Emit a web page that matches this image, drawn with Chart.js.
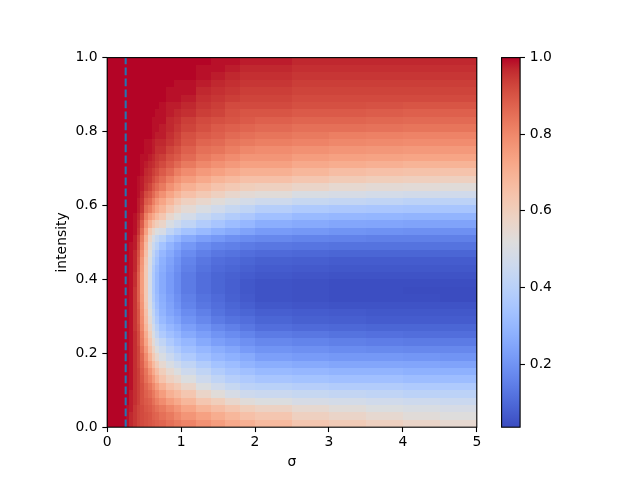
<!DOCTYPE html>
<html><head><meta charset="utf-8">
<script src="https://cdn.jsdelivr.net/npm/chart.js@4.4.0/dist/chart.umd.min.js"></script>
<style>
html,body{margin:0;padding:0;background:#fff;}
#wrap{position:relative;width:640px;height:480px;}
canvas{position:absolute;left:0;top:0;}
</style>
</head><body>
<div id="wrap"><canvas id="main" width="640" height="480"></canvas><canvas id="cbar" width="640" height="480"></canvas></div>
<script>
// ---- grid edges (σ columns, intensity rows) ----
const sigmaEdges = [0, 0.25, 0.3, 0.35, 0.4, 0.45, 0.5, 0.55, 0.6, 0.65, 0.7, 0.8, 0.9, 1.0, 1.2, 1.4, 1.6, 1.8, 2.0, 2.5, 3.0, 3.5, 4.0, 4.5, 5.0];
const intensityEdges = [0,0.02,0.04,0.06,0.08,0.1,0.12,0.14,0.16,0.18,0.2,0.22,0.24,0.26,0.28,0.3,0.32,0.34,0.36,0.38,0.4,0.42,0.44,0.46,0.48,0.5,0.52,0.54,0.56,0.58,0.6,0.62,0.64,0.66,0.68,0.7,0.72,0.74,0.76,0.78,0.8,0.82,0.84,0.86,0.88,0.9,0.92,0.94,0.96,0.98,1.0];
const xTicks = [0, 1, 2, 3, 4, 5];
const yTicks = [0, 0.2, 0.4, 0.6, 0.8, 1.0];
const colorbarTicks = [0.2, 0.4, 0.6, 0.8, 1.0];
const markerSigma = 0.25;
const colorMin = 0.035, colorMax = 1.0;

// ---- values per σ column, listed from intensity 0 (bottom) to 1 (top) ----
const sig0125 = [1,1,1,1,1,1,1,1,1,1, 1,1,1,1,1,1,1,1,1,1, 1,1,1,1,1,1,1,1,1,1, 1,1,1,1,1,1,1,1,1,1, 1,1,1,1,1,1,1,1,1,1];
const sig0275 = [0.99,0.99,0.99,1,1,1,1,1,1,1, 1,1,1,1,1,1,1,1,1,1, 1,1,1,1,1,1,1,1,1,1, 1,1,1,1,1,1,1,1,1,1, 1,1,1,1,1,1,1,1,1,1];
const sig0325 = [0.97,0.97,0.98,0.98,0.98,0.99,0.99,0.99,0.99,0.99, 0.99,0.99,0.99,0.99,0.99,0.99,0.99,0.99,0.99,0.99, 0.99,0.99,0.99,0.99,0.99,1,1,1,1,1, 1,1,1,1,1,1,1,1,1,1, 1,1,1,1,1,1,1,1,1,1];
const sig0375 = [0.95,0.95,0.95,0.96,0.96,0.96,0.96,0.96,0.96,0.96, 0.96,0.96,0.96,0.95,0.95,0.95,0.95,0.95,0.95,0.96, 0.96,0.97,0.97,0.97,0.98,0.98,0.99,0.99,0.99,1, 1,1,1,1,1,1,1,1,1,1, 1,1,1,1,1,1,1,1,1,1];
const sig0425 = [0.93,0.93,0.93,0.94,0.94,0.94,0.94,0.94,0.93,0.93, 0.93,0.92,0.92,0.91,0.90,0.90,0.89,0.88,0.88,0.88, 0.88,0.89,0.90,0.91,0.92,0.93,0.95,0.96,0.97,0.98, 0.98,0.99,0.99,0.99,1,1,1,1,1,1, 1,1,1,1,1,1,1,1,1,1];
const sig0475 = [0.92,0.92,0.92,0.91,0.91,0.91,0.90,0.89,0.88,0.87, 0.85,0.83,0.82,0.80,0.79,0.78,0.77,0.76,0.75,0.75, 0.75,0.76,0.77,0.79,0.81,0.83,0.86,0.89,0.92,0.95, 0.96,0.97,0.98,0.98,0.99,0.99,0.99,1,1,1, 1,1,1,1,1,1,1,1,1,1];
const sig0525 = [0.91,0.91,0.90,0.89,0.88,0.87,0.85,0.84,0.81,0.79, 0.76,0.73,0.71,0.68,0.66,0.65,0.63,0.62,0.62,0.62, 0.62,0.62,0.63,0.65,0.67,0.70,0.74,0.78,0.82,0.86, 0.89,0.92,0.95,0.96,0.97,0.98,0.99,0.99,0.99,1, 1,1,1,1,1,1,1,1,1,1];
const sig0575 = [0.90,0.90,0.89,0.88,0.86,0.84,0.81,0.78,0.74,0.70, 0.66,0.63,0.60,0.57,0.54,0.52,0.50,0.49,0.48,0.48, 0.48,0.49,0.50,0.52,0.54,0.57,0.62,0.70,0.76,0.83, 0.87,0.90,0.93,0.95,0.96,0.97,0.98,0.99,0.99,1, 1,1,1,1,1,1,1,1,1,1];
const sig0625 = [0.89,0.88,0.87,0.85,0.83,0.80,0.76,0.72,0.67,0.62, 0.58,0.54,0.50,0.47,0.44,0.42,0.40,0.38,0.37,0.37, 0.37,0.38,0.40,0.42,0.45,0.49,0.56,0.64,0.72,0.78, 0.82,0.86,0.89,0.92,0.94,0.96,0.97,0.98,0.98,0.99, 0.99,0.99,1,1,1,1,1,1,1,1];
const sig0675 = [0.88,0.87,0.85,0.82,0.79,0.75,0.70,0.66,0.61,0.56, 0.51,0.47,0.43,0.40,0.37,0.35,0.33,0.32,0.31,0.31, 0.31,0.32,0.34,0.36,0.40,0.44,0.51,0.60,0.67,0.73, 0.77,0.82,0.86,0.89,0.92,0.94,0.95,0.96,0.97,0.98, 0.99,0.99,0.99,1,1,1,1,1,1,1];
const sig075 = [0.87,0.85,0.83,0.79,0.75,0.70,0.64,0.60,0.55,0.50, 0.46,0.42,0.37,0.34,0.31,0.29,0.28,0.27,0.26,0.26, 0.26,0.27,0.28,0.30,0.34,0.40,0.49,0.57,0.63,0.69, 0.73,0.78,0.83,0.86,0.89,0.92,0.94,0.96,0.97,0.98, 0.98,0.99,0.99,0.99,1,1,1,1,1,1];
const sig085 = [0.85,0.83,0.80,0.75,0.70,0.65,0.59,0.55,0.50,0.45, 0.41,0.37,0.33,0.30,0.27,0.25,0.24,0.23,0.22,0.22, 0.22,0.23,0.24,0.26,0.29,0.34,0.42,0.50,0.56,0.63, 0.68,0.73,0.78,0.82,0.86,0.89,0.91,0.93,0.95,0.96, 0.97,0.97,0.98,0.98,0.99,0.99,1,1,1,1];
const sig095 = [0.83,0.80,0.77,0.72,0.67,0.62,0.56,0.51,0.46,0.41, 0.37,0.33,0.30,0.27,0.24,0.22,0.20,0.19,0.18,0.18, 0.18,0.19,0.20,0.22,0.25,0.30,0.38,0.46,0.52,0.58, 0.63,0.69,0.74,0.78,0.82,0.86,0.89,0.91,0.93,0.94, 0.95,0.96,0.97,0.98,0.99,0.99,0.99,1,1,1];
const sig11 = [0.81,0.77,0.73,0.68,0.63,0.57,0.51,0.46,0.42,0.37, 0.33,0.30,0.26,0.23,0.20,0.18,0.16,0.15,0.14,0.14, 0.14,0.15,0.16,0.18,0.21,0.26,0.34,0.42,0.48,0.54, 0.59,0.65,0.70,0.75,0.79,0.83,0.86,0.88,0.90,0.91, 0.93,0.94,0.96,0.97,0.98,0.99,0.99,1,1,1];
const sig13 = [0.78,0.74,0.69,0.63,0.57,0.51,0.46,0.42,0.38,0.33, 0.30,0.26,0.23,0.20,0.17,0.15,0.13,0.12,0.11,0.11, 0.11,0.12,0.13,0.15,0.18,0.23,0.31,0.38,0.44,0.50, 0.56,0.62,0.67,0.72,0.76,0.80,0.83,0.85,0.87,0.89, 0.91,0.92,0.94,0.95,0.96,0.97,0.98,0.99,0.99,1];
const sig15 = [0.75,0.71,0.66,0.60,0.53,0.47,0.42,0.38,0.34,0.30, 0.27,0.23,0.20,0.17,0.14,0.12,0.11,0.10,0.09,0.09, 0.09,0.10,0.11,0.13,0.16,0.21,0.28,0.35,0.41,0.47, 0.53,0.59,0.64,0.69,0.74,0.78,0.81,0.84,0.86,0.88, 0.89,0.91,0.93,0.94,0.95,0.96,0.97,0.98,0.99,0.99];
const sig17 = [0.72,0.68,0.63,0.56,0.49,0.44,0.39,0.35,0.32,0.28, 0.25,0.21,0.18,0.15,0.12,0.10,0.09,0.08,0.075,0.075, 0.08,0.09,0.10,0.12,0.15,0.19,0.26,0.32,0.38,0.44, 0.50,0.56,0.62,0.67,0.72,0.76,0.79,0.82,0.84,0.86, 0.88,0.90,0.91,0.92,0.94,0.95,0.96,0.97,0.98,0.99];
const sig19 = [0.70,0.65,0.60,0.53,0.46,0.41,0.37,0.33,0.29,0.26, 0.22,0.19,0.16,0.13,0.11,0.09,0.075,0.065,0.06,0.06, 0.07,0.08,0.09,0.11,0.14,0.18,0.24,0.30,0.36,0.42, 0.48,0.54,0.60,0.65,0.70,0.74,0.77,0.80,0.83,0.85, 0.87,0.89,0.90,0.92,0.93,0.94,0.95,0.96,0.97,0.98];
const sig225 = [0.67,0.63,0.58,0.51,0.45,0.40,0.35,0.31,0.27,0.23, 0.20,0.17,0.14,0.11,0.09,0.075,0.06,0.05,0.05,0.05, 0.06,0.07,0.08,0.10,0.13,0.17,0.22,0.27,0.33,0.39, 0.46,0.53,0.59,0.65,0.70,0.74,0.77,0.79,0.82,0.84, 0.86,0.88,0.90,0.92,0.93,0.94,0.95,0.96,0.97,0.98];
const sig275 = [0.63,0.59,0.55,0.49,0.44,0.39,0.34,0.30,0.26,0.22, 0.19,0.16,0.13,0.10,0.08,0.07,0.055,0.045,0.045,0.045, 0.055,0.065,0.075,0.095,0.125,0.16,0.21,0.26,0.31,0.37, 0.44,0.50,0.57,0.63,0.68,0.72,0.75,0.78,0.81,0.83, 0.85,0.87,0.89,0.91,0.92,0.93,0.94,0.95,0.96,0.97];
const sig325 = [0.61,0.57,0.53,0.48,0.43,0.38,0.33,0.29,0.25,0.21, 0.18,0.15,0.12,0.095,0.075,0.065,0.05,0.04,0.04,0.04, 0.05,0.06,0.07,0.09,0.12,0.155,0.20,0.25,0.30,0.36, 0.43,0.49,0.55,0.61,0.66,0.71,0.74,0.77,0.80,0.82, 0.85,0.87,0.89,0.91,0.92,0.93,0.94,0.95,0.96,0.97];
const sig375 = [0.59,0.55,0.51,0.47,0.42,0.38,0.33,0.29,0.25,0.21, 0.175,0.145,0.115,0.09,0.07,0.06,0.05,0.04,0.04,0.04, 0.05,0.06,0.07,0.09,0.12,0.15,0.195,0.245,0.295,0.355, 0.42,0.48,0.54,0.60,0.65,0.70,0.735,0.765,0.795,0.815, 0.845,0.865,0.885,0.905,0.92,0.93,0.94,0.95,0.96,0.97];
const sig425 = [0.57,0.53,0.50,0.46,0.41,0.37,0.32,0.28,0.245,0.205, 0.17,0.14,0.11,0.09,0.07,0.06,0.05,0.04,0.035,0.04, 0.05,0.06,0.07,0.09,0.12,0.15,0.19,0.24,0.29,0.35, 0.41,0.475,0.535,0.595,0.645,0.69,0.73,0.76,0.79,0.81, 0.84,0.86,0.88,0.90,0.92,0.93,0.94,0.95,0.96,0.97];
const sig475 = [0.55,0.52,0.49,0.45,0.41,0.37,0.32,0.28,0.24,0.20, 0.17,0.14,0.11,0.09,0.07,0.06,0.05,0.035,0.035,0.04, 0.05,0.06,0.07,0.09,0.12,0.15,0.19,0.24,0.29,0.35, 0.41,0.47,0.53,0.59,0.64,0.69,0.73,0.76,0.79,0.81, 0.84,0.86,0.88,0.90,0.92,0.93,0.94,0.95,0.96,0.97];

const heatColumns = [sig0125, sig0275, sig0325, sig0375, sig0425, sig0475, sig0525, sig0575, sig0625, sig0675,
  sig075, sig085, sig095, sig11, sig13, sig15, sig17, sig19, sig225, sig275, sig325, sig375, sig425, sig475];

// ---- coolwarm colormap (style) ----
const coolwarmStops = [[59,76,192],[68,90,204],[77,104,215],[87,117,225],[98,130,234],[108,142,241],[119,154,247],[130,165,251],[141,176,254],[152,185,255],[163,194,255],[174,201,253],[184,208,249],[194,213,244],[204,217,238],[213,219,230],[221,221,221],[229,216,209],[236,211,197],[241,204,184],[245,196,173],[247,187,160],[247,177,148],[247,166,135],[244,154,123],[241,141,111],[236,127,99],[229,112,88],[222,96,77],[213,80,66],[203,62,56],[192,40,47],[180,4,38]];
function coolwarm(t) {
  t = Math.max(0, Math.min(1, t));
  const n = coolwarmStops.length - 1;
  const f = t * n;
  const i = Math.min(Math.floor(f), n - 1);
  const r = f - i;
  const a = coolwarmStops[i], b = coolwarmStops[i + 1];
  return 'rgb(' + Math.round(a[0] + (b[0] - a[0]) * r) + ',' + Math.round(a[1] + (b[1] - a[1]) * r) + ',' + Math.round(a[2] + (b[2] - a[2]) * r) + ')';
}
const norm = v => (v - colorMin) / (colorMax - colorMin);

const FONT = { family: "'DejaVu Sans', sans-serif", size: 13.9 };
const TICKLEN = 4.86;

const heatPlugin = {
  id: 'heat',
  beforeDatasetsDraw(chart) {
    const { ctx, scales: { x, y } } = chart;
    ctx.save();
    heatColumns.forEach((col, j) => {
      const x0 = Math.round(x.getPixelForValue(sigmaEdges[j]));
      const x1 = Math.round(x.getPixelForValue(sigmaEdges[j + 1]));
      col.forEach((v, i) => {
        const yb = Math.round(y.getPixelForValue(intensityEdges[i]));
        const yt = Math.round(y.getPixelForValue(intensityEdges[i + 1]));
        ctx.fillStyle = coolwarm(norm(v));
        ctx.fillRect(x0, yt, x1 - x0, yb - yt);
      });
    });
    ctx.restore();
  },
  afterDatasetsDraw(chart) {
    const { ctx, chartArea: a } = chart;
    ctx.save();
    ctx.strokeStyle = '#000';
    ctx.lineWidth = 1.1;
    ctx.strokeRect(a.left, a.top, a.right - a.left, a.bottom - a.top);
    ctx.restore();
  }
};

new Chart(document.getElementById('main'), {
  type: 'scatter',
  data: {
    datasets: [{
      type: 'line',
      data: [{ x: markerSigma, y: 0 }, { x: markerSigma, y: 1 }],
      borderColor: '#1f77b4',
      borderWidth: 2.08,
      borderDash: [7.7, 3.3],
      pointRadius: 0,
      fill: false,
      tension: 0
    }]
  },
  options: {
    responsive: false, animation: false, events: [],
    plugins: { legend: { display: false }, tooltip: { enabled: false } },
    layout: { padding: { left: 0, right: 163.2, top: 57.6, bottom: 0 } },
    scales: {
      x: {
        type: 'linear', min: 0, max: 5, position: 'bottom',
        afterFit: s => { s.height = 52.8; },
        afterBuildTicks: s => { s.ticks = xTicks.map(v => ({ value: v })); },
        ticks: { callback: v => String(v), font: FONT, color: '#000', padding: 2, maxRotation: 0, autoSkip: false },
        grid: { display: true, drawOnChartArea: false, drawTicks: true, tickLength: TICKLEN, tickColor: '#000', tickWidth: 1.1 },
        border: { display: false },
        title: { display: true, text: 'σ', font: FONT, color: '#000', padding: { top: 0, bottom: 9.5 } }
      },
      y: {
        type: 'linear', min: 0, max: 1, position: 'left',
        afterFit: s => { s.width = 107.2; },
        afterBuildTicks: s => { s.ticks = yTicks.map(v => ({ value: v })); },
        ticks: { callback: v => Number(v).toFixed(1), font: FONT, color: '#000', padding: TICKLEN, autoSkip: false },
        grid: { display: true, drawOnChartArea: false, drawTicks: true, tickLength: TICKLEN, tickColor: '#000', tickWidth: 1.1 },
        border: { display: false },
        title: { display: true, text: 'intensity', font: FONT, color: '#000', padding: { top: 53.9, bottom: 0 } }
      }
    }
  },
  plugins: [heatPlugin]
});

const cbarPlugin = {
  id: 'cbar',
  beforeDatasetsDraw(chart) {
    const { ctx, chartArea: a, scales: { y } } = chart;
    const yBottom = y.getPixelForValue(colorMin), yTop = y.getPixelForValue(colorMax);
    const g = ctx.createLinearGradient(0, yBottom, 0, yTop);
    coolwarmStops.forEach((c, i) => g.addColorStop(i / (coolwarmStops.length - 1), 'rgb(' + c.join(',') + ')'));
    ctx.save();
    ctx.fillStyle = g;
    ctx.fillRect(a.left, yTop, a.right - a.left, yBottom - yTop);
    ctx.strokeStyle = '#000';
    ctx.lineWidth = 1.1;
    ctx.strokeRect(a.left, a.top, a.right - a.left, a.bottom - a.top);
    ctx.restore();
  }
};

new Chart(document.getElementById('cbar'), {
  type: 'scatter',
  data: { datasets: [] },
  options: {
    responsive: false, animation: false, events: [],
    plugins: { legend: { display: false }, tooltip: { enabled: false } },
    layout: { padding: { left: 501.6, right: 59.9, top: 57.6, bottom: 52.8 } },
    scales: {
      x: { display: false, min: 0, max: 1 },
      y: {
        type: 'linear', min: colorMin, max: colorMax, position: 'right',
        afterFit: s => { s.width = 60; },
        afterBuildTicks: s => { s.ticks = colorbarTicks.map(v => ({ value: v })); },
        ticks: { callback: v => Number(v).toFixed(1), font: FONT, color: '#000', padding: TICKLEN, autoSkip: false },
        grid: { display: true, drawOnChartArea: false, drawTicks: true, tickLength: TICKLEN, tickColor: '#000', tickWidth: 1.1 },
        border: { display: false }
      }
    }
  },
  plugins: [cbarPlugin]
});
</script>
</body></html>
